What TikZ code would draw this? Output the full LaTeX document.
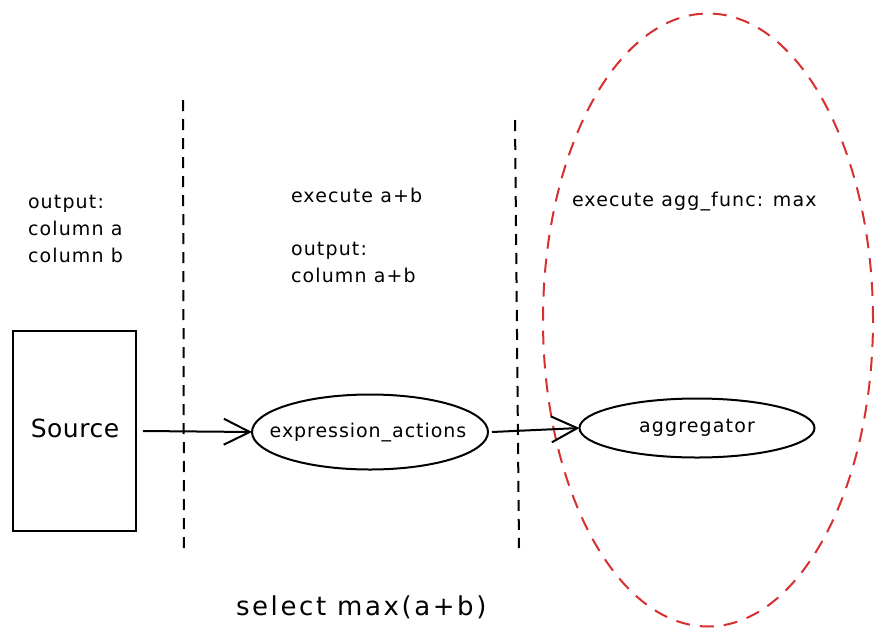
\documentclass[tikz,border=0pt]{standalone}
\usepackage{fontspec}
\setmainfont{DejaVu Sans}
\usetikzlibrary{arrows.meta,shapes.geometric}
\definecolor{redline}{RGB}{214,48,49}
\begin{document}
\begin{tikzpicture}[x=1pt,y=-1pt,
  every node/.style={inner sep=0pt, outer sep=0pt},
  txt/.style={font=\fontsize{19}{27}\selectfont\addfontfeature{LetterSpace=6}, align=left, anchor=north west},
  sep/.style={draw=black, line width=2pt, dash pattern=on 11pt off 8pt},
  flow/.style={draw=black, line width=2pt, -{Straight Barb[length=26pt,width=26pt,line width=2pt]}},
  proc/.style={draw=black, line width=2pt, ellipse}
]
\useasboundingbox (0,0) rectangle (881,643);
\fill[white] (0,0) rectangle (881,643);

% separators
\coordinate (s1a) at (183,100); \coordinate (s1b) at (184,555);
\coordinate (s2a) at (515,120); \coordinate (s2b) at (519,548);
\draw[sep] (s1a) -- (s1b);
\draw[sep] (s2a) -- (s2b);

% red dashed ellipse
\node[draw=redline, line width=2pt, dash pattern=on 14pt off 10pt, ellipse, minimum width=330pt, minimum height=613pt] (grp) at (708,320) {};

% source box
\node[draw=black, line width=2.2pt, minimum width=123pt, minimum height=200pt] (src) at (74.5,431) {};
\node[font=\fontsize{25}{28}\selectfont\addfontfeature{LetterSpace=2}] (srct) at (75,428) {Source};

% ellipses
\node[proc, minimum width=236pt, minimum height=75pt] (expr) at (370,432) {};
\node[font=\fontsize{19}{22}\selectfont\addfontfeature{LetterSpace=5}] (exprt) at (368,433) {expression\_actions};
\node[proc, minimum width=235pt, minimum height=59pt] (agg) at (697,428) {};
\node[font=\fontsize{19}{22}\selectfont\addfontfeature{LetterSpace=6}] (aggt) at (697,428) {aggregator};

% arrows
\draw[flow] (src.east) ++(7,0) coordinate (a1) (a1) -- (expr.west);
\draw[flow] (expr.east) ++(4,0) coordinate (a2) (a2) -- (agg.west);

% texts
\node[txt] (t1) at (28,195) {output:\\column a\\column b};
\node[txt] (t2) at (291,188) {execute a+b};
\node[txt] (t3) at (291,242) {output:\\column a+b};
\node[txt] (t4) at (572,192) {execute agg\_func: max};
\node[font=\fontsize{26}{30}\selectfont\addfontfeature{LetterSpace=10}, anchor=west] (t5) at (236,607) {select max(a+b)};
\end{tikzpicture}
\end{document}
